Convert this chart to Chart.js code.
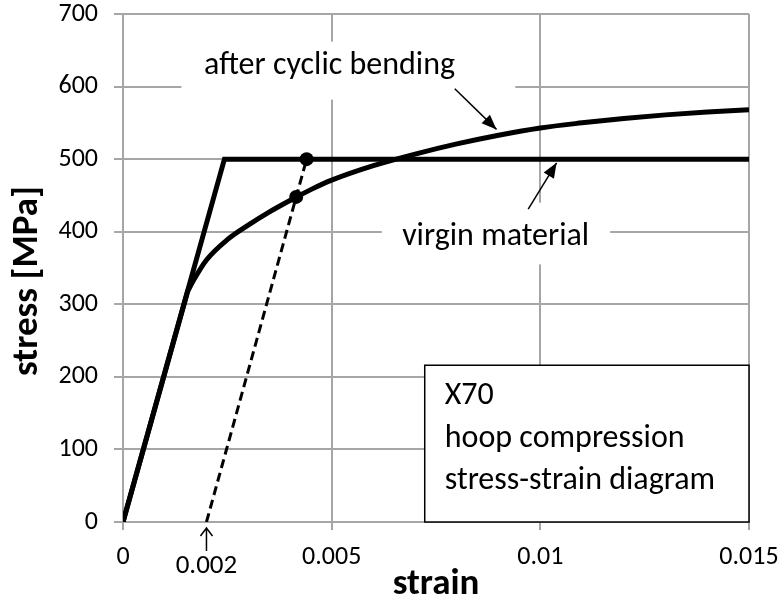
<!DOCTYPE html>
<html>
<head>
<meta charset="utf-8">
<script src="https://cdn.jsdelivr.net/npm/chart.js@4/dist/chart.umd.min.js"></script>
<style>
  html, body { margin: 0; padding: 0; background: #fff; }
  #wrap { width: 781px; height: 607px; }
</style>
</head>
<body>
<div id="wrap"><canvas id="chart" width="781" height="607"></canvas></div>
<script>
// ------------------------------------------------------------------
// Data
// ------------------------------------------------------------------
const xTickValues = [0, 0.005, 0.01, 0.015];
const xTickLabels = ['0', '0.005', '0.01', '0.015'];
const yTickValues = [0, 100, 200, 300, 400, 500, 600, 700];
const yTickLabels = ['0', '100', '200', '300', '400', '500', '600', '700'];

// virgin material: elastic-perfectly plastic
const virginStrain = [0, 0.00243, 0.015];
const virginStress = [0, 500, 500];

// after cyclic bending: elastic part, then rounded hardening curve
const cyclicElasticStrain = [0, 0.00155];
const cyclicElasticStress = [0, 318];
const cyclicStrain = [0.00155, 0.0017, 0.002, 0.0025, 0.003, 0.0035, 0.004, 0.0045, 0.005, 0.006, 0.007, 0.008, 0.009, 0.010, 0.011, 0.012, 0.013, 0.014, 0.015];
const cyclicStress = [318, 334, 361, 389, 409, 427, 443, 458, 471, 491, 507, 521, 533, 543, 550, 556, 561, 565, 568];

// 0.2 % offset line and the two marked yield points
const offsetStrain = [0.002, 0.0044];
const offsetStress = [0, 500];
const yieldStrain = [0.0044, 0.00415];
const yieldStress = [500, 448];

const toPts = (xs, ys) => xs.map((x, i) => ({ x: x, y: ys[i] }));

// ------------------------------------------------------------------
// Annotations (positions in data units)
// ------------------------------------------------------------------
const FONT = 'Carlito, Calibri, Lato, sans-serif';
const GRID = '#a6a6a6';

const labelBoxes = [
  { x0: 0.0014, x1: 0.0094, y0: 582, y1: 662 },   // after cyclic bending
  { x0: 0.0062, x1: 0.01167, y0: 355, y1: 440 },  // virgin material
];
const labelTexts = [
  { text: 'after cyclic bending', x: 0.00495, y: 629 },
  { text: 'virgin material', x: 0.00893, y: 393 },
];
const labelArrows = [
  { x0: 0.00795, y0: 597, x1: 0.00895, y1: 541 },
  { x0: 0.00971, y0: 431, x1: 0.01039, y1: 495 },
];
const infoBox = { x0: 0.00723, x1: 0.015, y0: 0, y1: 216, textX: 0.00771 };
const infoLines = [
  { text: 'X70', y: 173 },
  { text: 'hoop compression', y: 114 },
  { text: 'stress-strain diagram', y: 56 },
];

function arrowHead(ctx, x0, y0, x1, y1, len, half) {
  const a = Math.atan2(y1 - y0, x1 - x0);
  ctx.beginPath();
  ctx.moveTo(x1, y1);
  ctx.lineTo(x1 - len * Math.cos(a) + half * Math.sin(a), y1 - len * Math.sin(a) - half * Math.cos(a));
  ctx.lineTo(x1 - len * Math.cos(a) - half * Math.sin(a), y1 - len * Math.sin(a) + half * Math.cos(a));
  ctx.closePath();
  ctx.fill();
}

const annotations = {
  id: 'annotations',
  beforeDatasetsDraw(chart) {
    const { ctx, scales: { x, y } } = chart;
    ctx.save();
    ctx.fillStyle = '#fff';
    labelBoxes.forEach(b => {
      ctx.fillRect(x.getPixelForValue(b.x0), y.getPixelForValue(b.y1),
        x.getPixelForValue(b.x1) - x.getPixelForValue(b.x0),
        y.getPixelForValue(b.y0) - y.getPixelForValue(b.y1));
    });
    // info box
    const bx0 = x.getPixelForValue(infoBox.x0), bx1 = x.getPixelForValue(infoBox.x1);
    const by0 = y.getPixelForValue(infoBox.y1), by1 = y.getPixelForValue(infoBox.y0);
    ctx.fillRect(bx0, by0, bx1 - bx0, by1 - by0);
    ctx.strokeStyle = '#000';
    ctx.lineWidth = 1.5;
    ctx.strokeRect(bx0, by0, bx1 - bx0, by1 - by0);

    ctx.fillStyle = '#000';
    ctx.font = '32px ' + FONT;
    ctx.textBaseline = 'middle';
    ctx.textAlign = 'center';
    labelTexts.forEach(t => ctx.fillText(t.text, x.getPixelForValue(t.x), y.getPixelForValue(t.y)));
    ctx.textAlign = 'left';
    infoLines.forEach(t => ctx.fillText(t.text, x.getPixelForValue(infoBox.textX), y.getPixelForValue(t.y)));
    ctx.restore();
  },
  afterDraw(chart) {
    const { ctx, chartArea, scales: { x, y } } = chart;
    ctx.save();
    ctx.strokeStyle = '#000';
    ctx.fillStyle = '#000';
    ctx.lineWidth = 1.5;
    labelArrows.forEach(a => {
      const px0 = x.getPixelForValue(a.x0), py0 = y.getPixelForValue(a.y0);
      const px1 = x.getPixelForValue(a.x1), py1 = y.getPixelForValue(a.y1);
      ctx.beginPath();
      ctx.moveTo(px0, py0);
      ctx.lineTo(px1, py1);
      ctx.stroke();
      arrowHead(ctx, px0, py0, px1, py1, 15, 6);
    });

    // 0.002 marker below the axis
    const px = x.getPixelForValue(0.002);
    const top = y.getPixelForValue(0) + 6;
    ctx.beginPath();
    ctx.moveTo(px, top + 23);
    ctx.lineTo(px, top);
    ctx.moveTo(px - 6, top + 8);
    ctx.lineTo(px, top);
    ctx.lineTo(px + 6, top + 8);
    ctx.stroke();
    ctx.font = '27px ' + FONT;
    ctx.textAlign = 'center';
    ctx.textBaseline = 'middle';
    ctx.fillText('0.002', px, top + 38);

    // y axis title (sits a little below the plot centre in the original)
    ctx.translate(28, (chartArea.top + chartArea.bottom) / 2 + 13);
    ctx.rotate(-Math.PI / 2);
    ctx.font = 'bold 37px ' + FONT;
    ctx.fillText('stress [MPa]', 0, 0);
    ctx.restore();
  }
};

// ------------------------------------------------------------------
// Chart
// ------------------------------------------------------------------
const line = { showLine: true, pointRadius: 0, borderColor: '#000', backgroundColor: '#000', borderWidth: 5, tension: 0 };

new Chart(document.getElementById('chart'), {
  type: 'scatter',
  data: {
    datasets: [
      { label: 'yield points', data: toPts(yieldStrain, yieldStress), pointRadius: 7, pointBackgroundColor: '#000', pointBorderWidth: 0, showLine: false },
      Object.assign({}, line, { label: 'virgin material', data: toPts(virginStrain, virginStress), borderJoinStyle: 'miter' }),
      Object.assign({}, line, { label: 'after cyclic bending', data: toPts(cyclicStrain, cyclicStress), cubicInterpolationMode: 'monotone' }),
      Object.assign({}, line, { label: 'after cyclic bending (elastic)', data: toPts(cyclicElasticStrain, cyclicElasticStress) }),
      Object.assign({}, line, { label: '0.2% offset', data: toPts(offsetStrain, offsetStress), borderWidth: 3, borderDash: [9, 5] }),
    ]
  },
  options: {
    responsive: false,
    animation: false,
    devicePixelRatio: 1,
    layout: { padding: { top: 14, right: 32, left: 0, bottom: 0 } },
    plugins: { legend: { display: false }, tooltip: { enabled: false } },
    scales: {
      x: {
        type: 'linear', min: 0, max: 0.015,
        afterBuildTicks: (s) => { s.ticks = xTickValues.map(v => ({ value: v })); },
        afterFit: (s) => { s.height = 85; s.paddingLeft = 0; s.paddingRight = 0; },
        ticks: {
          color: '#000', font: { family: FONT, size: 26 }, padding: 12, maxRotation: 0,
          callback: (v) => xTickLabels[xTickValues.indexOf(v)]
        },
        grid: { color: GRID, lineWidth: 2, tickLength: 8 },
        border: { color: GRID, width: 2 },
        title: { display: true, text: 'strain', color: '#000', font: { family: FONT, size: 37, weight: 'bold' }, padding: { bottom: 0 } }
      },
      y: {
        type: 'linear', min: 0, max: 700,
        afterBuildTicks: (s) => { s.ticks = yTickValues.map(v => ({ value: v })); },
        afterFit: (s) => { s.width = 123; s.paddingTop = 0; s.paddingBottom = 0; },
        ticks: {
          color: '#000', font: { family: FONT, size: 26 }, padding: 16,
          callback: (v) => yTickLabels[yTickValues.indexOf(v)]
        },
        grid: { color: GRID, lineWidth: 2, tickLength: 9 },
        border: { color: GRID, width: 2 },
        title: { display: false, text: 'stress [MPa]' }
      }
    }
  },
  plugins: [annotations]
});
</script>
</body>
</html>
